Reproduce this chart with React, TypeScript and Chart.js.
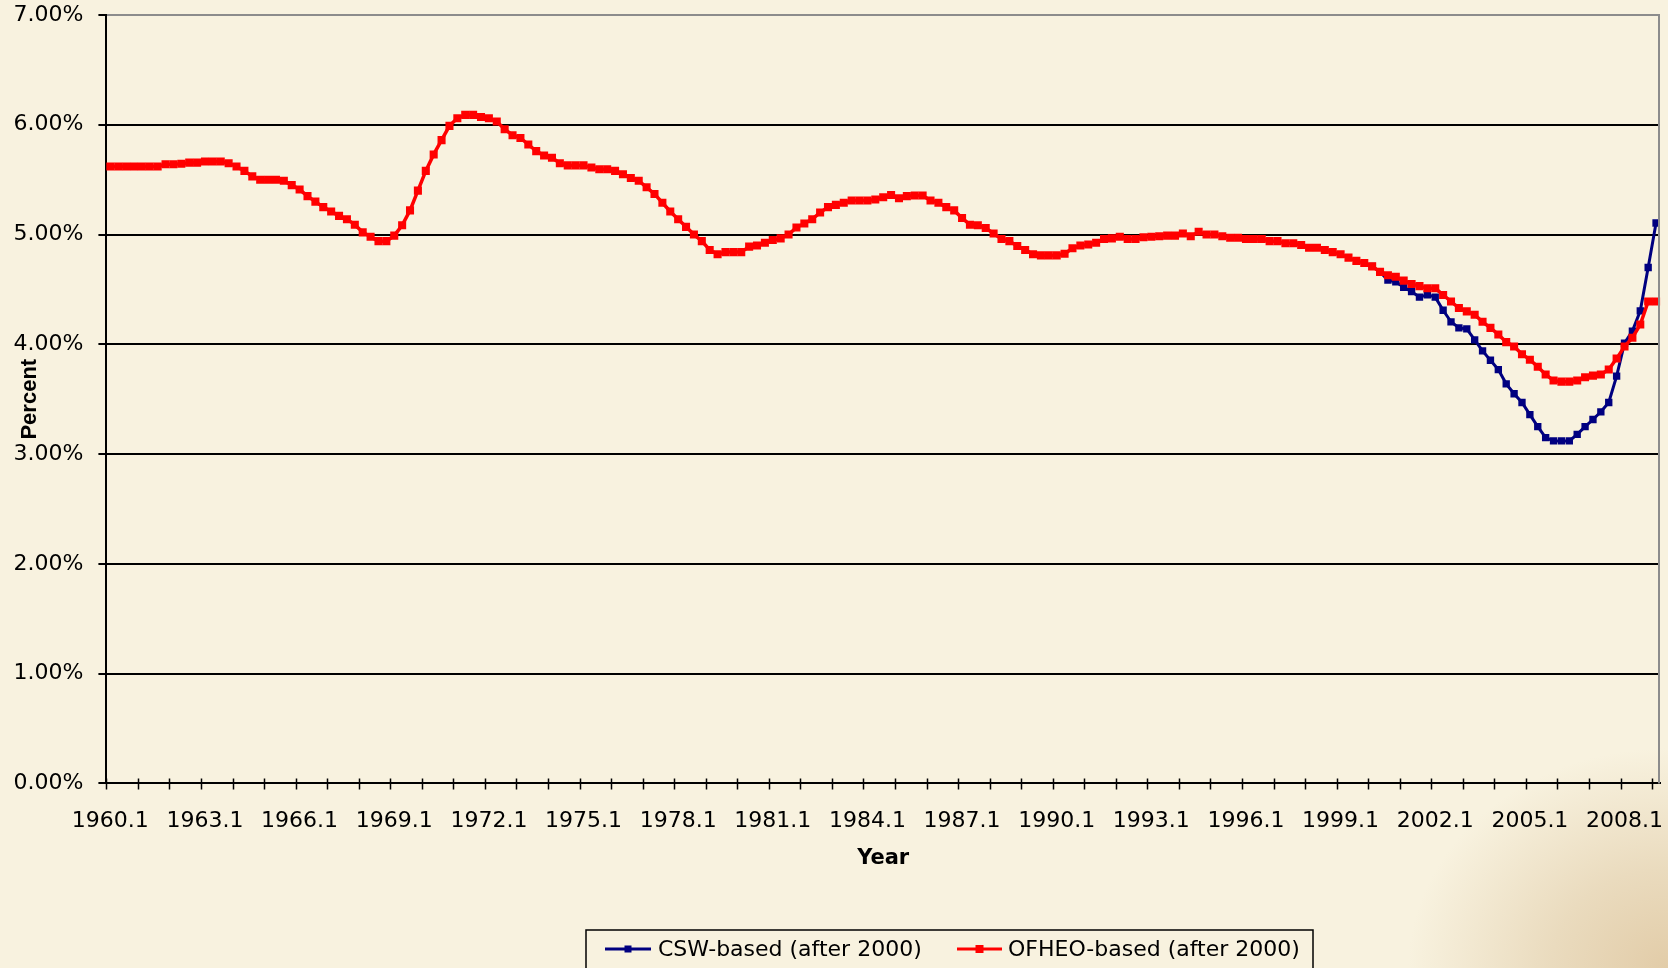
import React, { useEffect, useRef } from 'react';
import { Chart, registerables } from 'chart.js';

Chart.register(...registerables);

// ---- Data (percent), quarterly from 1960.1 ----
const START_YEAR = 1960;

const ofheo1960s = [
  5.62, 5.62, 5.62, 5.62,
  5.62, 5.62, 5.62, 5.64,
  5.64, 5.645, 5.655, 5.655,
  5.665, 5.665, 5.665, 5.65,
  5.62, 5.58, 5.53, 5.5,
  5.5, 5.5, 5.49, 5.45,
  5.41, 5.35, 5.3, 5.25,
  5.21, 5.17, 5.14, 5.09,
  5.02, 4.98, 4.94, 4.94,
  4.99, 5.085, 5.22, 5.4,
];
const ofheo1970s = [
  5.58, 5.73, 5.86, 5.99,
  6.06, 6.09, 6.09, 6.07,
  6.06, 6.03, 5.96, 5.905,
  5.88, 5.82, 5.76, 5.72,
  5.7, 5.65, 5.63, 5.63,
  5.63, 5.61, 5.595, 5.595,
  5.58, 5.55, 5.515, 5.49,
  5.43, 5.37, 5.29, 5.21,
  5.14, 5.07, 5.0, 4.94,
  4.86, 4.82, 4.84, 4.84,
];
const ofheo1980s = [
  4.84, 4.89, 4.9, 4.925,
  4.95, 4.965, 5.0, 5.065,
  5.1, 5.14, 5.2, 5.25,
  5.27, 5.29, 5.31, 5.31,
  5.31, 5.32, 5.34, 5.36,
  5.33, 5.35, 5.355, 5.355,
  5.31, 5.29, 5.25, 5.22,
  5.15, 5.09, 5.085, 5.06,
  5.01, 4.96, 4.94, 4.895,
  4.86, 4.82, 4.81, 4.81,
];
const ofheo1990s = [
  4.81, 4.825, 4.875, 4.9,
  4.91, 4.925, 4.96, 4.965,
  4.98, 4.96, 4.96, 4.975,
  4.98, 4.985, 4.99, 4.99,
  5.01, 4.985, 5.025, 5.0,
  5.0, 4.985, 4.97, 4.97,
  4.96, 4.96, 4.96, 4.94,
  4.94, 4.92, 4.92, 4.905,
  4.88, 4.88, 4.86, 4.84,
  4.82, 4.79, 4.76, 4.74,
];
const ofheo2000s = [
  4.71, 4.66, 4.63, 4.615,
  4.58, 4.55, 4.53, 4.51,
  4.51, 4.45, 4.39, 4.33,
  4.3, 4.27, 4.205, 4.15,
  4.09, 4.02, 3.98, 3.91,
  3.86, 3.795, 3.725, 3.67,
  3.66, 3.66, 3.67, 3.7,
  3.715, 3.725, 3.77, 3.87,
  3.98, 4.06, 4.18, 4.39,
  4.39,
];

// CSW-based series, starting 2000.1
const CSW_START = '2000.1';
const csw2000s = [
  4.71, 4.66, 4.585, 4.57,
  4.52, 4.48, 4.43, 4.45,
  4.43, 4.31, 4.205, 4.15,
  4.14, 4.04, 3.94, 3.855,
  3.77, 3.64, 3.55, 3.47,
  3.36, 3.25, 3.15, 3.12,
  3.12, 3.12, 3.18, 3.25,
  3.315, 3.385, 3.47, 3.71,
  4.01, 4.12, 4.305, 4.7,
  5.105,
];

const X_TICK_LABELS = [
  '1960.1', '1963.1', '1966.1', '1969.1', '1972.1', '1975.1', '1978.1', '1981.1',
  '1984.1', '1987.1', '1990.1', '1993.1', '1996.1', '1999.1', '2002.1', '2005.1', '2008.1',
];

const SERIES_NAMES = ['CSW-based (after 2000)', 'OFHEO-based (after 2000)'];
const SERIES_COLORS = ['#000080', '#FF0000'];

const ofheo = [...ofheo1960s, ...ofheo1970s, ...ofheo1980s, ...ofheo1990s, ...ofheo2000s];
const quarterLabels = ofheo.map((_, i) => `${START_YEAR + Math.floor(i / 4)}.${(i % 4) + 1}`);
const cswOffset = quarterLabels.indexOf(CSW_START);
const csw = quarterLabels.map((_, i) => (i < cswOffset ? null : csw2000s[i - cswOffset] ?? null));

const TICK_FONT = '"DejaVu Sans", sans-serif';

const decorPlugin = {
  id: 'decor',
  afterDraw(chart: any) {
    const { ctx, chartArea, scales } = chart;
    const xs = scales.x;
    ctx.save();
    // right plot-area border
    ctx.strokeStyle = '#8c8c8c';
    ctx.lineWidth = 2;
    ctx.beginPath();
    ctx.moveTo(chartArea.right - 1, chartArea.top);
    ctx.lineTo(chartArea.right - 1, chartArea.bottom);
    ctx.stroke();

    // crossing tick marks on x axis every 4 quarters (category boundaries)
    const half = (xs.getPixelForValue(1) - xs.getPixelForValue(0)) / 2;
    ctx.strokeStyle = '#000';
    ctx.lineWidth = 1.5;
    ctx.beginPath();
    for (let i = 0; i < quarterLabels.length; i += 4) {
      const px = Math.round(xs.getPixelForValue(i) - half) + 0.5;
      ctx.moveTo(px, chartArea.bottom - 5);
      ctx.lineTo(px, chartArea.bottom + 6);
    }
    ctx.stroke();

    // legend
    const L = { left: 586, top: 930, right: 1313, bottom: 990, cy: 949 };
    ctx.strokeStyle = '#000';
    ctx.lineWidth = 1.5;
    ctx.strokeRect(L.left, L.top, L.right - L.left, L.bottom - L.top);
    const items = [
      { x0: 605, x1: 651, tx: 658, color: SERIES_COLORS[0], name: SERIES_NAMES[0], m: 7 },
      { x0: 957, x1: 1002, tx: 1008, color: SERIES_COLORS[1], name: SERIES_NAMES[1], m: 8 },
    ];
    ctx.font = `22px ${TICK_FONT}`;
    ctx.textBaseline = 'middle';
    ctx.textAlign = 'left';
    for (const it of items) {
      ctx.strokeStyle = it.color;
      ctx.lineWidth = 3;
      ctx.beginPath();
      ctx.moveTo(it.x0, L.cy);
      ctx.lineTo(it.x1, L.cy);
      ctx.stroke();
      ctx.fillStyle = it.color;
      const mx = (it.x0 + it.x1) / 2;
      ctx.fillRect(mx - it.m / 2, L.cy - it.m / 2, it.m, it.m);
      ctx.fillStyle = '#000';
      ctx.fillText(it.name, it.tx, L.cy + 1);
    }
    ctx.restore();
  },
};

export default function App() {
  const canvasRef = useRef<HTMLCanvasElement | null>(null);

  useEffect(() => {
    if (!canvasRef.current) return;
    const chart = new Chart(canvasRef.current, {
      type: 'line',
      data: {
        labels: quarterLabels,
        datasets: [
          {
            label: SERIES_NAMES[0],
            data: csw,
            borderColor: SERIES_COLORS[0],
            backgroundColor: SERIES_COLORS[0],
            borderWidth: 3,
            pointStyle: 'rect',
            pointRadius: 5.2,
            pointBorderWidth: 0,
            pointBackgroundColor: SERIES_COLORS[0],
            tension: 0,
            order: 1,
          },
          {
            label: SERIES_NAMES[1],
            data: ofheo,
            borderColor: SERIES_COLORS[1],
            backgroundColor: SERIES_COLORS[1],
            borderWidth: 3.5,
            pointStyle: 'rect',
            pointRadius: 5.7,
            pointBorderWidth: 0,
            pointBackgroundColor: SERIES_COLORS[1],
            tension: 0,
            order: 0,
          },
        ],
      },
      options: {
        responsive: false,
        animation: false,
        devicePixelRatio: 1,
        layout: { padding: { left: 0, top: 15, right: 8, bottom: 0 } },
        plugins: {
          legend: { display: false },
          tooltip: { enabled: false },
          title: { display: false },
        },
        scales: {
          x: {
            type: 'category',
            offset: true,
            grid: { display: false },
            border: { display: true, color: '#000', width: 2 },
            ticks: {
              autoSkip: false,
              maxRotation: 0,
              minRotation: 0,
              padding: 17,
              color: '#000',
              font: { family: TICK_FONT, size: 22 },
              callback: function (this: any, value: any, index: number) {
                const lab = quarterLabels[index];
                return X_TICK_LABELS.includes(lab) ? lab : '';
              },
            },
            title: {
              display: true,
              text: 'Year',
              color: '#000',
              font: { family: TICK_FONT, size: 21, weight: 'bold' },
              padding: { top: 0, bottom: 97 },
            },
            afterFit: (scale: any) => {
              scale.height = 184.6;
              scale.paddingLeft = 0;
              scale.paddingRight = 0;
            },
          },
          y: {
            min: 0,
            max: 7,
            grid: {
              color: (c: any) => (c.tick && c.tick.value === 7 ? '#8c8c8c' : '#000'),
              lineWidth: 2,
              tickLength: 8,
              tickColor: '#000',
              drawTicks: true,
            },
            border: { display: true, color: '#000', width: 2 },
            ticks: {
              stepSize: 1,
              padding: 15,
              color: '#000',
              font: { family: TICK_FONT, size: 22 },
              callback: (v: any) => `${Number(v).toFixed(2)}%`,
            },
            title: {
              display: true,
              text: 'Percent',
              color: '#000',
              font: { family: '"Liberation Sans", Arial, sans-serif', size: 22, weight: 'bold' },
              padding: { top: 17, bottom: 0 },
            },
            afterFit: (scale: any) => {
              scale.width = 106.4;
              scale.paddingTop = 0;
              scale.paddingBottom = 0;
            },
          },
        },
      },
      plugins: [decorPlugin],
    } as any);
    return () => chart.destroy();
  }, []);

  return (
    <div
      style={{
        position: 'fixed',
        left: 0,
        top: 0,
        width: 1668,
        height: 968,
        overflow: 'hidden',
        background:
          'radial-gradient(ellipse 260px 220px at 100% 100%, #E2CCA8 0%, #EADBBE 45%, rgba(248,242,223,0) 100%), #F8F2DF',
      }}
    >
      <canvas ref={canvasRef} width={1668} height={968} style={{ display: 'block', width: 1668, height: 968 }} />
    </div>
  );
}
